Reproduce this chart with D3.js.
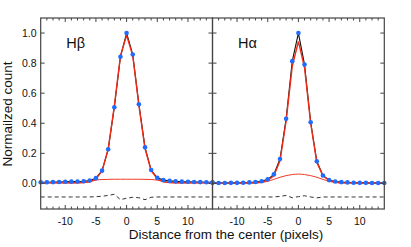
<html>
<head>
<meta charset="utf-8">
<script src="https://cdn.jsdelivr.net/npm/d3@7"></script>
<style>
  body { margin: 0; padding: 0; background: #fff; }
  text { font-family: "Liberation Sans", Arial, sans-serif; fill: #111; }
</style>
</head>
<body>
<div id="chart"></div>
<script>
  // pixel offsets from the line center
  const pix = d3.range(-14, 15)

  // H-beta
  const hbData = [0.008, 0.008, 0.009, 0.010, 0.011, 0.012, 0.013, 0.015, 0.020, 0.035, 0.085, 0.227, 0.507, 0.842, 1.000,
    0.857, 0.527, 0.240, 0.089, 0.037, 0.022, 0.017, 0.014, 0.012, 0.011, 0.010, 0.009, 0.008, 0.008]
  const hbFit = [0.005, 0.005, 0.005, 0.005, 0.005, 0.005, 0.005, 0.006, 0.010, 0.030, 0.083, 0.228, 0.515, 0.850, 0.985,
    0.850, 0.520, 0.232, 0.085, 0.031, 0.011, 0.006, 0.005, 0.005, 0.005, 0.005, 0.005, 0.005, 0.005]
  const hbBroad = [0.004, 0.004, 0.004, 0.004, 0.004, 0.004, 0.004, 0.006, 0.012, 0.022, 0.026, 0.027, 0.028, 0.028, 0.028,
    0.028, 0.028, 0.027, 0.026, 0.022, 0.012, 0.006, 0.004, 0.004, 0.004, 0.004, 0.004, 0.004, 0.004]
  const hbResid = [-0.09, -0.09, -0.09, -0.09, -0.09, -0.09, -0.09, -0.09, -0.09, -0.088, -0.085, -0.08, -0.072, -0.108, -0.098,
    -0.092, -0.095, -0.108, -0.092, -0.09, -0.09, -0.09, -0.09, -0.09, -0.09, -0.09, -0.09, -0.09, -0.09]

  // H-alpha
  const haData = [0.004, 0.003, 0.003, 0.004, 0.004, 0.005, 0.007, 0.010, 0.015, 0.027, 0.060, 0.162, 0.430, 0.813, 1.000,
    0.790, 0.407, 0.147, 0.053, 0.022, 0.013, 0.009, 0.007, 0.005, 0.004, 0.004, 0.003, 0.003, 0.003]
  const haFit = [0.003, 0.003, 0.003, 0.003, 0.003, 0.003, 0.003, 0.005, 0.009, 0.020, 0.050, 0.150, 0.415, 0.780, 0.944,
    0.770, 0.400, 0.140, 0.050, 0.020, 0.009, 0.004, 0.004, 0.004, 0.004, 0.004, 0.004, 0.004, 0.004]
  const haBroad = [0.003, 0.003, 0.003, 0.003, 0.003, 0.003, 0.003, 0.003, 0.006, 0.014, 0.027, 0.041, 0.052, 0.059, 0.062,
    0.059, 0.052, 0.041, 0.027, 0.014, 0.006, 0.003, 0.003, 0.003, 0.003, 0.003, 0.003, 0.003, 0.003]
  const haResid = [-0.09, -0.09, -0.09, -0.09, -0.09, -0.09, -0.09, -0.09, -0.09, -0.09, -0.09, -0.086, -0.08, -0.095, -0.088,
    -0.082, -0.09, -0.096, -0.09, -0.09, -0.09, -0.09, -0.09, -0.09, -0.09, -0.09, -0.09, -0.09, -0.09]

  const panels = [
    { label: "Hβ", data: hbData, fit: hbFit, broad: hbBroad, resid: hbResid },
    { label: "Hα", data: haData, fit: haFit, broad: haBroad, resid: haResid }
  ]
  const xTicks = [-10, -5, 0, 5, 10]
  const yTicks = [0, 0.2, 0.4, 0.6, 0.8, 1.0]

  const width = 411, height = 247
  const mLeft = 40.7, mTop = 18, pw = 171.8, ph = 191

  const svg = d3.select("#chart").append("svg")
    .attr("width", width)
    .attr("height", height)

  const y = d3.scaleLinear().domain([-0.17, 1.1]).range([mTop + ph, mTop])
  const axisColor = "#444"

  panels.forEach((p, k) => {
    const x0 = mLeft + k * pw
    const x = d3.scaleLinear().domain([-14, 14]).range([x0, x0 + pw])
    const g = svg.append("g")

    const line = (vals, curve) => d3.line()
      .x((d, i) => x(pix[i]))
      .y(d => y(d))
      .curve(curve || d3.curveLinear)(vals)

    // residual
    g.append("path").attr("d", line(p.resid))
      .attr("fill", "none").attr("stroke", "#333").attr("stroke-width", 1)
      .attr("stroke-dasharray", "4,3")
    // broad component
    g.append("path").attr("d", line(p.broad, d3.curveMonotoneX))
      .attr("fill", "none").attr("stroke", "#f03a24").attr("stroke-width", 1)
    // data line
    g.append("path").attr("d", line(p.data))
      .attr("fill", "none").attr("stroke", "#111").attr("stroke-width", 1.1)
    // fit
    g.append("path").attr("d", line(p.fit))
      .attr("fill", "none").attr("stroke", "#f02a14").attr("stroke-width", 1.4)
    // points
    g.selectAll("circle").data(p.data).join("circle")
      .attr("cx", (d, i) => x(pix[i]))
      .attr("cy", d => y(d))
      .attr("r", 2.3)
      .attr("fill", "#1f6cff")

    // frame
    g.append("rect")
      .attr("x", x0).attr("y", mTop).attr("width", pw).attr("height", ph)
      .attr("fill", "none").attr("stroke", axisColor).attr("stroke-width", 1.2)

    // x ticks (inside, top and bottom)
    const minor = d3.range(-13, 14)
    minor.forEach(v => {
      const len = v % 5 === 0 ? 4 : 2.5
      g.append("line").attr("x1", x(v)).attr("x2", x(v))
        .attr("y1", mTop + ph).attr("y2", mTop + ph - len)
        .attr("stroke", axisColor).attr("stroke-width", 1)
      g.append("line").attr("x1", x(v)).attr("x2", x(v))
        .attr("y1", mTop).attr("y2", mTop + len)
        .attr("stroke", axisColor).attr("stroke-width", 1)
    })
    g.selectAll("text.xt").data(xTicks).join("text")
      .attr("class", "xt")
      .attr("x", d => x(d))
      .attr("y", 224.5)
      .attr("text-anchor", "middle")
      .attr("font-size", "10.5px")
      .text(d => d < 0 ? "-" + Math.abs(d) : d)

    // y ticks (inside, both sides)
    yTicks.forEach(v => {
      g.append("line").attr("x1", x0).attr("x2", x0 + 4)
        .attr("y1", y(v)).attr("y2", y(v))
        .attr("stroke", axisColor).attr("stroke-width", 1)
      g.append("line").attr("x1", x0 + pw).attr("x2", x0 + pw - 4)
        .attr("y1", y(v)).attr("y2", y(v))
        .attr("stroke", axisColor).attr("stroke-width", 1)
    })

    g.append("text")
      .attr("x", x0 + 25.5)
      .attr("y", 48)
      .attr("font-size", "14.5px")
      .text(p.label)
  })

  svg.selectAll("text.yt").data(yTicks).join("text")
    .attr("class", "yt")
    .attr("x", 36.5)
    .attr("y", d => y(d))
    .attr("dy", "0.36em")
    .attr("text-anchor", "end")
    .attr("font-size", "10.5px")
    .text(d => d.toFixed(1))

  svg.append("text")
    .attr("x", 226)
    .attr("y", 239)
    .attr("text-anchor", "middle")
    .attr("font-size", "13.5px")
    .text("Distance from the center (pixels)")

  svg.append("text")
    .attr("transform", "translate(12,114) rotate(-90)")
    .attr("text-anchor", "middle")
    .attr("font-size", "13.5px")
    .text("Normailzed count")
</script>
</body>
</html>
